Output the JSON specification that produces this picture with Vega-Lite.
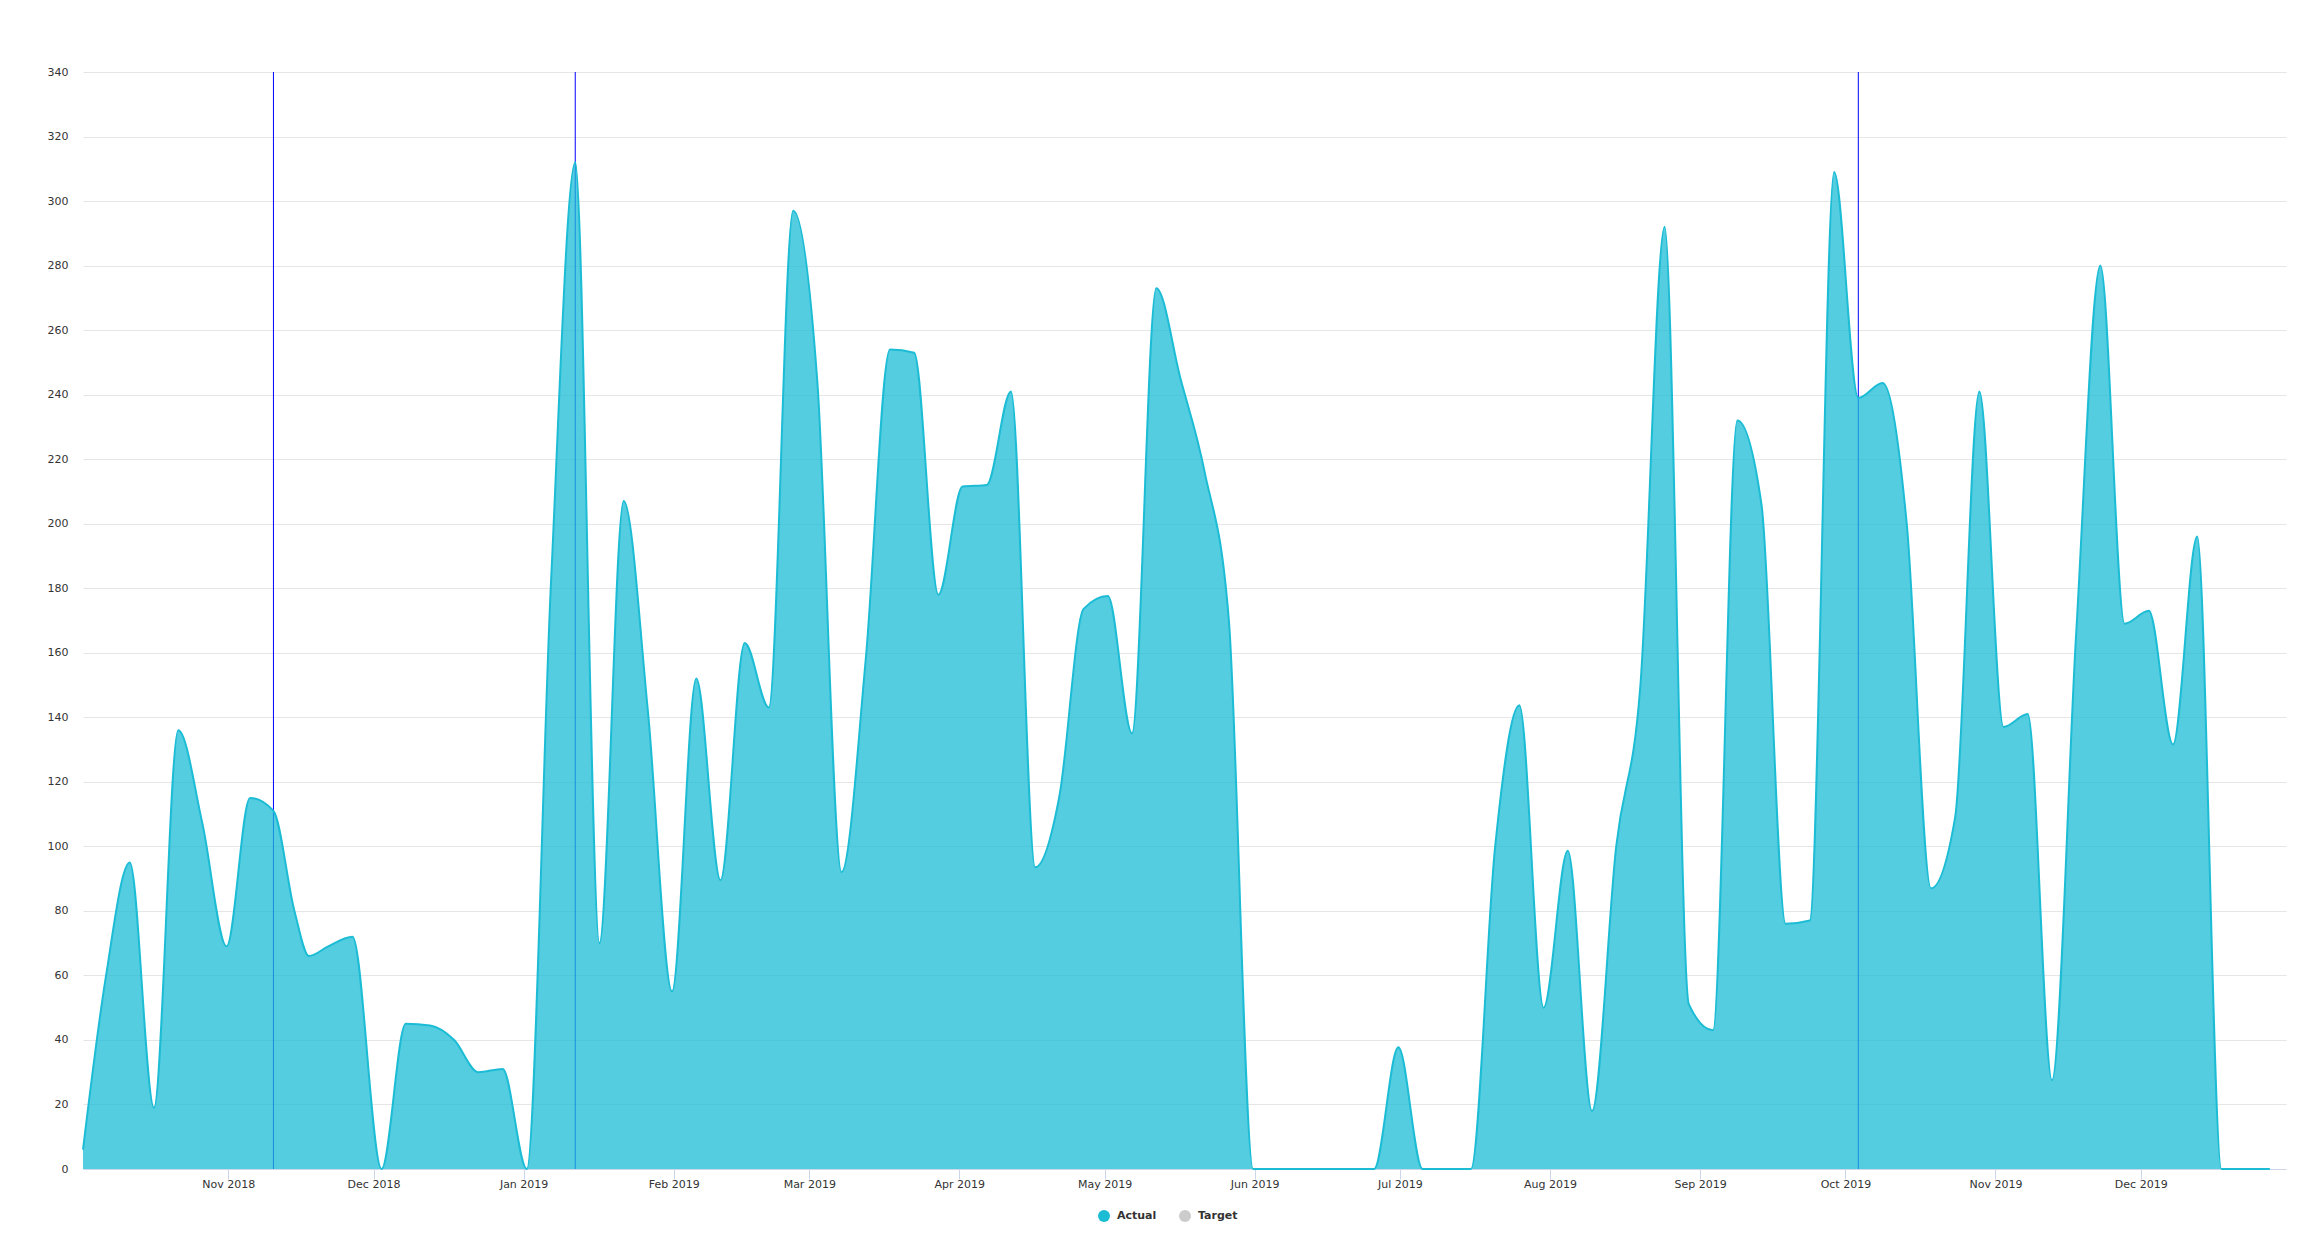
{
  "$schema": "https://vega.github.io/schema/vega-lite/v6.json",
  "width": 2203,
  "height": 1097,
  "autosize": {"type": "none"},
  "padding": {"left": 83, "top": 72, "right": 23, "bottom": 64},
  "background": "white",
  "config": {"view": {"stroke": null}, "font": "DejaVu Sans"},
  "datasets": {
    "actual": [
      {"date": "2018-10-02T00:00:00Z", "value": 6, "series": "Actual"},
      {"date": "2018-10-06T16:00:00Z", "value": 59, "series": "Actual"},
      {"date": "2018-10-11T16:00:00Z", "value": 95, "series": "Actual"},
      {"date": "2018-10-16T16:00:00Z", "value": 19, "series": "Actual"},
      {"date": "2018-10-21T16:00:00Z", "value": 136, "series": "Actual"},
      {"date": "2018-10-26T16:00:00Z", "value": 107, "series": "Actual"},
      {"date": "2018-10-31T16:00:00Z", "value": 69, "series": "Actual"},
      {"date": "2018-11-05T12:00:00Z", "value": 115, "series": "Actual"},
      {"date": "2018-11-10T08:00:00Z", "value": 111, "series": "Actual"},
      {"date": "2018-11-14T16:00:00Z", "value": 80, "series": "Actual"},
      {"date": "2018-11-17T16:00:00Z", "value": 66, "series": "Actual"},
      {"date": "2018-11-21T16:00:00Z", "value": 69, "series": "Actual"},
      {"date": "2018-11-26T16:00:00Z", "value": 72, "series": "Actual"},
      {"date": "2018-12-02T16:00:00Z", "value": 0, "series": "Actual"},
      {"date": "2018-12-07T16:00:00Z", "value": 45, "series": "Actual"},
      {"date": "2018-12-12T16:00:00Z", "value": 44.5, "series": "Actual"},
      {"date": "2018-12-17T16:00:00Z", "value": 40, "series": "Actual"},
      {"date": "2018-12-22T16:00:00Z", "value": 30, "series": "Actual"},
      {"date": "2018-12-27T16:00:00Z", "value": 31, "series": "Actual"},
      {"date": "2019-01-01T16:00:00Z", "value": 0, "series": "Actual"},
      {"date": "2019-01-06T16:00:00Z", "value": 182, "series": "Actual"},
      {"date": "2019-01-11T16:00:00Z", "value": 312, "series": "Actual"},
      {"date": "2019-01-16T16:00:00Z", "value": 70, "series": "Actual"},
      {"date": "2019-01-21T16:00:00Z", "value": 207, "series": "Actual"},
      {"date": "2019-01-26T16:00:00Z", "value": 142, "series": "Actual"},
      {"date": "2019-01-31T16:00:00Z", "value": 55, "series": "Actual"},
      {"date": "2019-02-05T16:00:00Z", "value": 152, "series": "Actual"},
      {"date": "2019-02-10T16:00:00Z", "value": 89.5, "series": "Actual"},
      {"date": "2019-02-15T16:00:00Z", "value": 163, "series": "Actual"},
      {"date": "2019-02-20T16:00:00Z", "value": 143, "series": "Actual"},
      {"date": "2019-02-25T16:00:00Z", "value": 297, "series": "Actual"},
      {"date": "2019-03-02T16:00:00Z", "value": 244, "series": "Actual"},
      {"date": "2019-03-07T16:00:00Z", "value": 92, "series": "Actual"},
      {"date": "2019-03-12T16:00:00Z", "value": 158, "series": "Actual"},
      {"date": "2019-03-17T16:00:00Z", "value": 254, "series": "Actual"},
      {"date": "2019-03-22T16:00:00Z", "value": 253, "series": "Actual"},
      {"date": "2019-03-27T16:00:00Z", "value": 178, "series": "Actual"},
      {"date": "2019-04-01T16:00:00Z", "value": 211.5, "series": "Actual"},
      {"date": "2019-04-06T16:00:00Z", "value": 212, "series": "Actual"},
      {"date": "2019-04-11T16:00:00Z", "value": 241, "series": "Actual"},
      {"date": "2019-04-16T16:00:00Z", "value": 93.5, "series": "Actual"},
      {"date": "2019-04-21T16:00:00Z", "value": 115.6, "series": "Actual"},
      {"date": "2019-04-26T16:00:00Z", "value": 173.6, "series": "Actual"},
      {"date": "2019-05-01T16:00:00Z", "value": 177.6, "series": "Actual"},
      {"date": "2019-05-06T16:00:00Z", "value": 135, "series": "Actual"},
      {"date": "2019-05-11T16:00:00Z", "value": 273, "series": "Actual"},
      {"date": "2019-05-16T16:00:00Z", "value": 245, "series": "Actual"},
      {"date": "2019-05-21T16:00:00Z", "value": 216, "series": "Actual"},
      {"date": "2019-05-26T16:00:00Z", "value": 170, "series": "Actual"},
      {"date": "2019-05-31T16:00:00Z", "value": 0, "series": "Actual"},
      {"date": "2019-06-05T16:00:00Z", "value": 0, "series": "Actual"},
      {"date": "2019-06-10T16:00:00Z", "value": 0, "series": "Actual"},
      {"date": "2019-06-15T16:00:00Z", "value": 0, "series": "Actual"},
      {"date": "2019-06-20T16:00:00Z", "value": 0, "series": "Actual"},
      {"date": "2019-06-25T16:00:00Z", "value": 0, "series": "Actual"},
      {"date": "2019-06-30T16:00:00Z", "value": 37.7, "series": "Actual"},
      {"date": "2019-07-05T16:00:00Z", "value": 0, "series": "Actual"},
      {"date": "2019-07-10T16:00:00Z", "value": 0, "series": "Actual"},
      {"date": "2019-07-15T16:00:00Z", "value": 0, "series": "Actual"},
      {"date": "2019-07-20T16:00:00Z", "value": 100, "series": "Actual"},
      {"date": "2019-07-25T16:00:00Z", "value": 143.7, "series": "Actual"},
      {"date": "2019-07-30T16:00:00Z", "value": 50, "series": "Actual"},
      {"date": "2019-08-04T16:00:00Z", "value": 98.6, "series": "Actual"},
      {"date": "2019-08-09T16:00:00Z", "value": 18, "series": "Actual"},
      {"date": "2019-08-14T16:00:00Z", "value": 100, "series": "Actual"},
      {"date": "2019-08-19T16:00:00Z", "value": 150, "series": "Actual"},
      {"date": "2019-08-24T16:00:00Z", "value": 292, "series": "Actual"},
      {"date": "2019-08-29T16:00:00Z", "value": 51, "series": "Actual"},
      {"date": "2019-09-03T16:00:00Z", "value": 43, "series": "Actual"},
      {"date": "2019-09-08T16:00:00Z", "value": 232, "series": "Actual"},
      {"date": "2019-09-13T16:00:00Z", "value": 206, "series": "Actual"},
      {"date": "2019-09-18T16:00:00Z", "value": 76, "series": "Actual"},
      {"date": "2019-09-23T16:00:00Z", "value": 77, "series": "Actual"},
      {"date": "2019-09-28T16:00:00Z", "value": 309, "series": "Actual"},
      {"date": "2019-10-03T16:00:00Z", "value": 239, "series": "Actual"},
      {"date": "2019-10-08T16:00:00Z", "value": 243.6, "series": "Actual"},
      {"date": "2019-10-13T16:00:00Z", "value": 200, "series": "Actual"},
      {"date": "2019-10-18T16:00:00Z", "value": 87, "series": "Actual"},
      {"date": "2019-10-23T16:00:00Z", "value": 109, "series": "Actual"},
      {"date": "2019-10-28T16:00:00Z", "value": 241, "series": "Actual"},
      {"date": "2019-11-02T16:00:00Z", "value": 137, "series": "Actual"},
      {"date": "2019-11-07T16:00:00Z", "value": 141, "series": "Actual"},
      {"date": "2019-11-12T16:00:00Z", "value": 27.5, "series": "Actual"},
      {"date": "2019-11-17T16:00:00Z", "value": 166, "series": "Actual"},
      {"date": "2019-11-22T16:00:00Z", "value": 280, "series": "Actual"},
      {"date": "2019-11-27T16:00:00Z", "value": 169, "series": "Actual"},
      {"date": "2019-12-02T16:00:00Z", "value": 173, "series": "Actual"},
      {"date": "2019-12-07T16:00:00Z", "value": 131.6, "series": "Actual"},
      {"date": "2019-12-12T16:00:00Z", "value": 196, "series": "Actual"},
      {"date": "2019-12-17T16:00:00Z", "value": 0, "series": "Actual"},
      {"date": "2019-12-22T16:00:00Z", "value": 0, "series": "Actual"},
      {"date": "2019-12-27T16:00:00Z", "value": 0, "series": "Actual"}
    ],
    "markers": [
      {"date": "2018-11-10T08:00:00Z"},
      {"date": "2019-01-11T16:00:00Z"},
      {"date": "2019-10-03T16:00:00Z"}
    ]
  },
  "encoding": {
    "x": {
      "field": "date",
      "type": "temporal",
      "scale": {"domain": ["2018-10-02T00:00:00Z", "2019-12-31T00:00:00Z"], "nice": false},
      "axis": {
        "title": null,
        "format": "%b %Y",
        "tickCount": {"interval": "month", "step": 1},
        "grid": false,
        "domainColor": "#ccd6eb",
        "tickColor": "#ccd6eb",
        "tickSize": 10,
        "labelPadding": -1,
        "labelFont": "DejaVu Sans",
        "labelFontSize": 11,
        "labelColor": "#333333",
        "labelFlush": false,
        "labelOverlap": false
      }
    }
  },
  "layer": [
    {
      "data": {"name": "markers"},
      "mark": {"type": "rule", "color": "#0000ff", "strokeWidth": 1},
      "encoding": {}
    },
    {
      "data": {"name": "actual"},
      "mark": {
        "type": "area",
        "interpolate": "monotone",
        "fillOpacity": 0.75,
        "line": {"strokeWidth": 2}
      },
      "encoding": {
        "y": {
          "field": "value",
          "type": "quantitative",
          "scale": {"domain": [0, 340], "nice": false},
          "axis": {
            "title": null,
            "values": [0, 20, 40, 60, 80, 100, 120, 140, 160, 180, 200, 220, 240, 260, 280, 300, 320, 340],
            "grid": true,
            "gridColor": "#e6e6e6",
            "domain": false,
            "ticks": false,
            "labelPadding": 15,
            "labelFont": "DejaVu Sans",
            "labelFontSize": 11,
            "labelColor": "#333333"
          }
        },
        "color": {
          "field": "series",
          "type": "nominal",
          "scale": {"domain": ["Actual", "Target"], "range": ["#1cbcd5", "#cccccc"]},
          "legend": {
            "orient": "none",
            "direction": "horizontal",
            "legendX": 1015,
            "legendY": 1138,
            "title": null,
            "symbolType": "circle",
            "symbolSize": 144,
            "symbolOpacity": 1,
            "symbolStrokeWidth": 0,
            "labelFont": "DejaVu Sans",
            "labelFontSize": 11,
            "labelFontWeight": "bold",
            "labelColor": "#333333",
            "labelOffset": 7,
            "columnPadding": 22
          }
        }
      }
    }
  ]
}
